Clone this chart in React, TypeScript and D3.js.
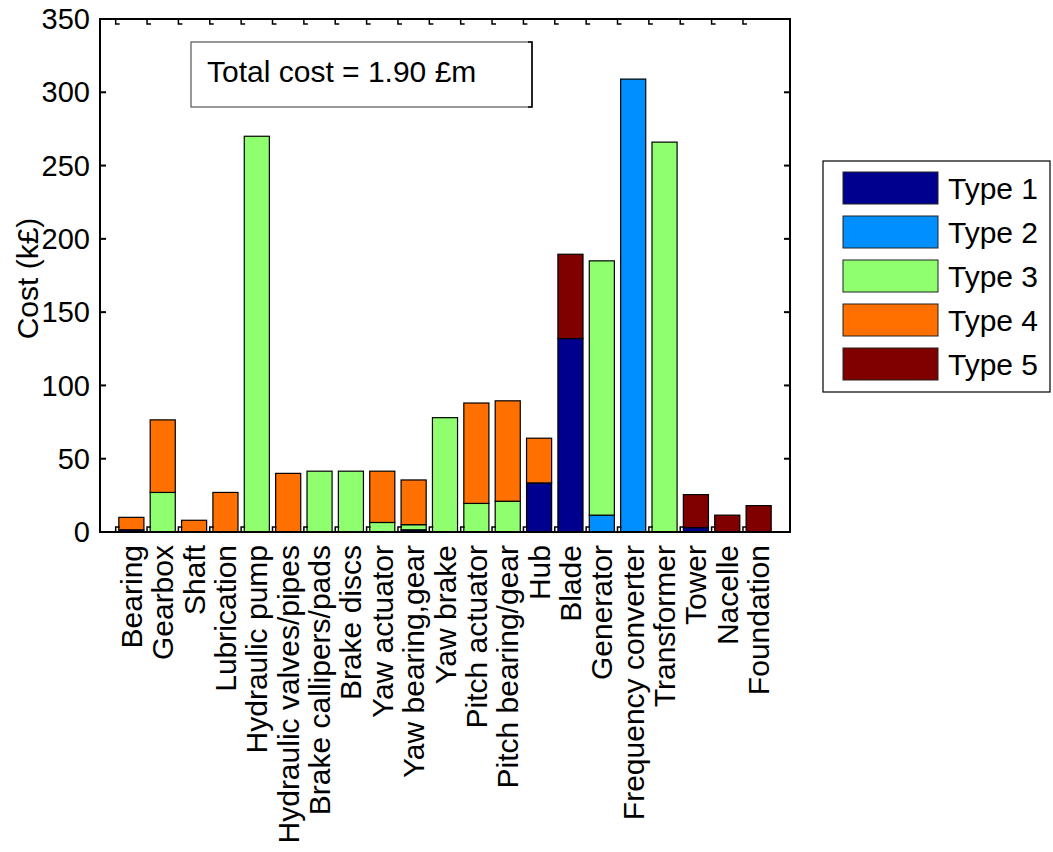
import React from "react";
import * as d3 from "d3";

// Components of the turbine and their cost breakdown (k£) by failure type
const components = [
  "Bearing", "Gearbox", "Shaft", "Lubrication", "Hydraulic pump",
  "Hydraulic valves/pipes", "Brake callipers/pads", "Brake discs",
  "Yaw actuator", "Yaw bearing,gear", "Yaw brake", "Pitch actuator",
  "Pitch bearing/gear", "Hub", "Blade", "Generator", "Frequency converter",
  "Transformer", "Tower", "Nacelle", "Foundation",
];
const type1 = [1.5, 0, 0, 0, 0, 0, 0, 0, 0, 1.5, 0, 0, 0, 33.5, 132, 0, 0, 0, 3, 0, 0];
const type2 = [0, 0, 0, 0, 0, 0, 0, 0, 0, 0, 0, 0, 0, 0, 0, 11.5, 309, 0, 0, 0, 0];
const type3 = [0, 27, 0, 0, 270, 0, 41.5, 41.5, 6.5, 3.5, 78, 19.5, 21, 0, 0, 173.5, 0, 266, 0, 0, 0];
const type4 = [8.5, 49.5, 8, 27, 0, 40, 0, 0, 35, 30.5, 0, 68.5, 68.5, 30.5, 0, 0, 0, 0, 0, 0, 0];
const type5 = [0, 0, 0, 0, 0, 0, 0, 0, 0, 0, 0, 0, 0, 0, 57.5, 0, 0, 0, 22.5, 11.5, 18];
const typeNames = ["Type 1", "Type 2", "Type 3", "Type 4", "Type 5"];
const typeColors = ["#00008f", "#008fff", "#8fff70", "#ff7000", "#800000"];
const yTicks = [0, 50, 100, 150, 200, 250, 300, 350];
const totalLabel = "Total cost = 1.90 £m";

const W = 1053;
const H = 852;
const left = 100;
const right = 790;
const top = 19;
const bottom = 532;
const font = "Liberation Sans, Arial, sans-serif";
const fs = 30;

export default function App() {
  const series = [type1, type2, type3, type4, type5];
  const rows = components.map((name, i) => {
    const r: Record<string, any> = { name };
    typeNames.forEach((t, k) => (r[t] = series[k][i]));
    return r;
  });
  const stacked = d3.stack().keys(typeNames)(rows as any);

  const x = d3.scaleLinear().domain([0, components.length + 1]).range([left, right]);
  const y = d3.scaleLinear().domain([0, 350]).range([bottom, top]);
  const step = x(1) - x(0);
  const barW = step * 0.8;

  return (
    <svg width={W} height={H} style={{ display: "block", position: "absolute", left: 0, top: 0 }}>
      <rect width={W} height={H} fill="#fff" />

      {/* stacked bars */}
      {stacked.map((layer, k) => (
        <g key={k}>
          {layer.map((d, i) => {
            const h = y(d[0]) - y(d[1]);
            if (h <= 0) return null;
            return (
              <rect
                key={i}
                x={x(i + 1) - barW / 2}
                y={y(d[1])}
                width={barW}
                height={h}
                fill={typeColors[k]}
                stroke="#000"
                strokeWidth={1.2}
              />
            );
          })}
        </g>
      ))}

      {/* small marks between categories along the bottom and top edges */}
      {components.map((_, i) => {
        const mx = x(i + 1) - step / 2;
        return (
          <g key={i} stroke="#000" strokeWidth={1.5} fill="none">
            <path d={`M${mx},${bottom} V${bottom - 5} H${mx + 4}`} />
            <path d={`M${mx},${top} V${top + 5} H${mx + 4}`} />
          </g>
        );
      })}

      {/* axes box */}
      <rect x={left} y={top} width={right - left} height={bottom - top} fill="none" stroke="#000" strokeWidth={2} />

      {/* y ticks and labels */}
      {yTicks.map((t) => (
        <g key={t}>
          <line x1={left} x2={left + 6} y1={y(t)} y2={y(t)} stroke="#000" strokeWidth={2} />
          <line x1={right} x2={right - 6} y1={y(t)} y2={y(t)} stroke="#000" strokeWidth={2} />
          <text
            x={left - 10}
            y={y(t)}
            dy="0.35em"
            textAnchor="end"
            fontFamily={font}
            fontSize={29}
            fill="#000"
          >
            {t}
          </text>
        </g>
      ))}

      {/* y axis title */}
      <text
        transform={`translate(27,${(top + bottom) / 2 + 3}) rotate(-90)`}
        dy="0.35em"
        textAnchor="middle"
        fontFamily={font}
        fontSize={fs}
        fill="#000"
      >
        Cost (k£)
      </text>

      {/* x category labels */}
      {components.map((c, i) => (
        <text
          key={c}
          transform={`translate(${x(i + 1)},${bottom + 13}) rotate(-90)`}
          dy="0.35em"
          textAnchor="end"
          fontFamily={font}
          fontSize={fs}
          fill="#000"
        >
          {c}
        </text>
      ))}

      {/* total cost annotation */}
      <rect x={191} y={42} width={341} height={65} fill="#fff" stroke="#555" strokeWidth={1.2} />
      <path d="M528,42 H532 V107 H528" fill="none" stroke="#000" strokeWidth={1.5} />
      <text x={207} y={82} fontFamily={font} fontSize={fs} fill="#000">
        {totalLabel}
      </text>

      {/* legend */}
      <rect x={823} y={161} width={227} height={231} fill="#fff" stroke="#000" strokeWidth={1.2} />
      {typeNames.map((t, k) => {
        const sy = 172 + k * 44;
        return (
          <g key={t}>
            <rect x={843} y={sy} width={95} height={32} fill={typeColors[k]} stroke="#222" strokeWidth={1} />
            <text x={948} y={sy + 16} dy="0.38em" fontFamily={font} fontSize={fs} fill="#000">
              {t}
            </text>
          </g>
        );
      })}
    </svg>
  );
}
